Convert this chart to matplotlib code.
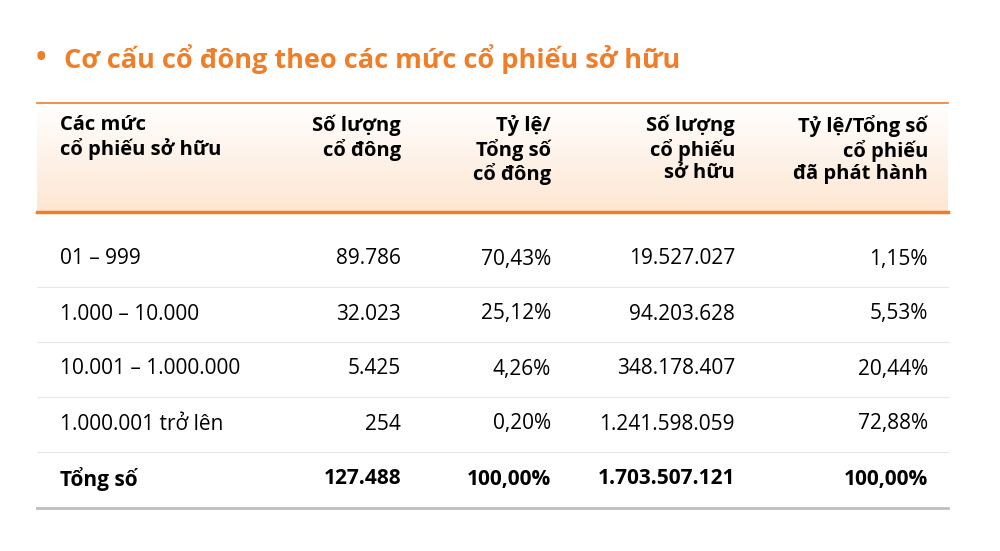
import matplotlib.pyplot as plt
import numpy as np
from matplotlib.colors import LinearSegmentedColormap

plt.rcParams['font.family'] = ['Open Sans', 'DejaVu Sans']

title = "Cơ cấu cổ đông theo các mức cổ phiếu sở hữu"
headers = ["Các mức\ncổ phiếu sở hữu", "Số lượng\ncổ đông", "Tỷ lệ/\nTổng số\ncổ đông",
           "Số lượng\ncổ phiếu\nsở hữu", "Tỷ lệ/Tổng số\ncổ phiếu\nđã phát hành"]
levels = ["01 – 999", "1.000 – 10.000", "10.001 – 1.000.000", "1.000.001 trở lên", "Tổng số"]
holders = ["89.786", "32.023", "5.425", "254", "127.488"]
holder_pct = ["70,43%", "25,12%", "4,26%", "0,20%", "100,00%"]
shares = ["19.527.027", "94.203.628", "348.178.407", "1.241.598.059", "1.703.507.121"]
share_pct = ["1,15%", "5,53%", "20,44%", "72,88%", "100,00%"]

orange = "#F07D28"
fig = plt.figure(figsize=(10, 5.51), dpi=100)
ax = fig.add_axes([0, 0, 1, 1])
ax.set_xlim(0, 1000)
ax.set_ylim(551, 0)
ax.axis("off")

# title with bullet
ax.text(36, 59, "•", color=orange, fontsize=20, fontweight="bold", va="center")
ax.text(64, 59, title, color=orange, fontsize=19.5, fontweight="bold", va="center")

# header gradient
grad = np.linspace(0, 1, 100).reshape(-1, 1)
cmap = LinearSegmentedColormap.from_list("h", ["#FFFFFF", "#FDE6D2"])
ax.imshow(grad, extent=(37, 948, 212, 104), cmap=cmap, aspect="auto", zorder=0)
ax.plot([37, 948], [103, 103], color=orange, lw=1.2)
ax.plot([37, 948], [212, 212], color=orange, lw=2.5)

right_x = [401, 551, 735, 928]
ax.text(60, 115, headers[0], fontsize=14.5, fontweight="bold", va="top", ha="left", linespacing=1.15)
for x, h in zip(right_x, headers[1:]):
    ax.text(x, 115, h, fontsize=14.5, fontweight="bold", va="top", ha="right",
            multialignment="right", linespacing=1.15)

rows_y = [259, 314, 369, 424, 479]
for i, y in enumerate(rows_y):
    w = "bold" if i == len(rows_y) - 1 else "normal"
    ax.text(60, y, levels[i], fontsize=15, fontweight=w, va="center")
    for x, col in zip(right_x, [holders, holder_pct, shares, share_pct]):
        ax.text(x, y, col[i], fontsize=15, fontweight=w, va="center", ha="right")
    if i < len(rows_y) - 1:
        ax.plot([37, 948], [y + 27.5, y + 27.5], color="#E6E6E6", lw=0.8)
ax.plot([37, 948], [508, 508], color="#BFBFBF", lw=2)

fig.savefig("out.png", dpi=100, facecolor="white")
